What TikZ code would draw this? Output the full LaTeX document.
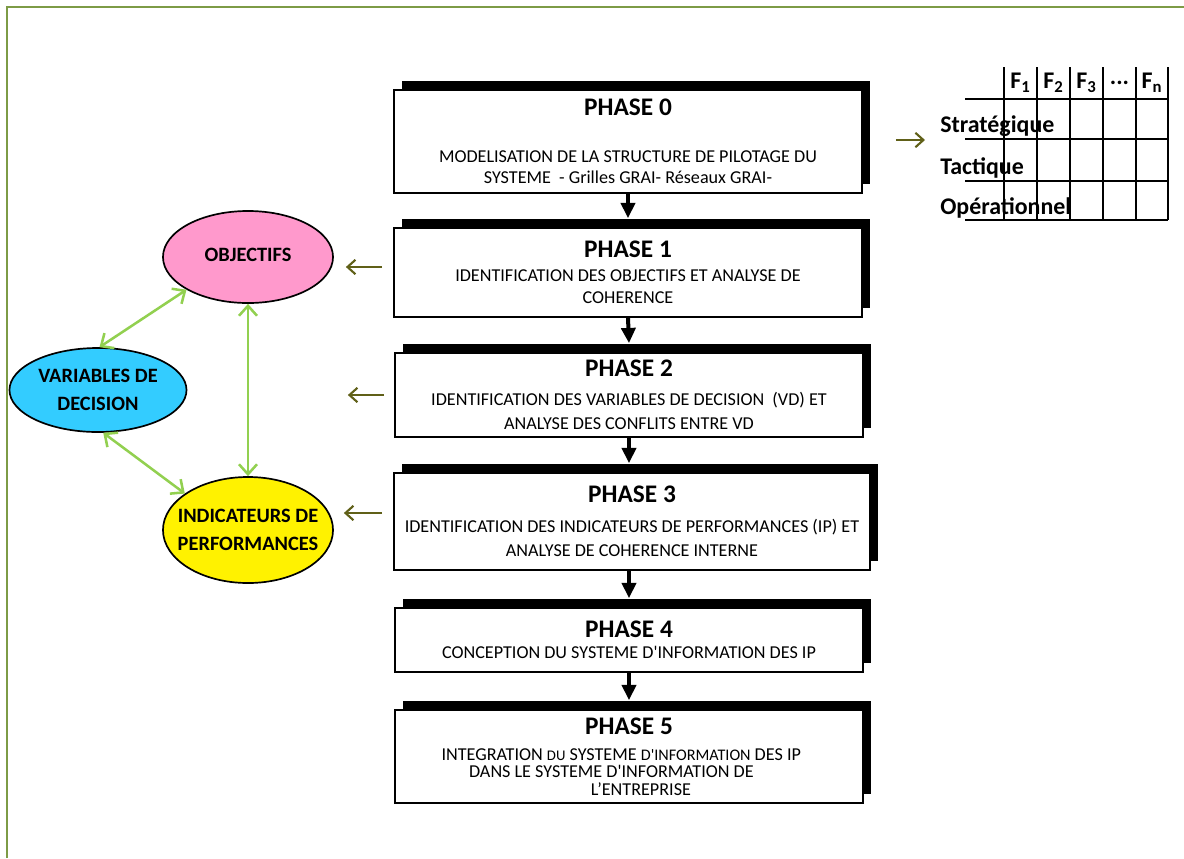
\documentclass[tikz,border=0pt]{standalone}
\usepackage{fontspec}
\setmainfont{Carlito}
\usetikzlibrary{shapes.geometric,shadows,arrows.meta,calc}
\definecolor{framegreen}{RGB}{125,155,70}
\definecolor{feedolive}{RGB}{96,96,24}
\definecolor{linkgreen}{RGB}{146,208,80}
\definecolor{objpink}{RGB}{255,153,204}
\definecolor{vdcyan}{RGB}{51,204,255}
\tikzset{
	phase/.style={rectangle, draw=black, line width=1.2pt, fill=white, minimum width=11.7cm, align=center, inner sep=2pt, font=\fontsize{12.9}{16}\selectfont, general shadow={fill=black, shadow xshift=0.2cm, shadow yshift=0.225cm}},
	goal/.style={ellipse, draw=black, line width=1.2pt, inner xsep=-0.3cm, inner ysep=0pt, align=center, font=\fontsize{14.5}{20}\selectfont\bfseries},
	flow/.style={-{Triangle[width=0.35cm,length=0.38cm]}, line width=0.1cm},
	link/.style={{Straight Barb[length=2.5mm,width=4.5mm]}-{Straight Barb[length=2.5mm,width=4.5mm]}, linkgreen, line width=1.8pt},
	feed/.style={-{Straight Barb[length=2mm,width=3.6mm]}, feedolive, line width=1.5pt},
	grid/.style={line width=0.8pt},
	cell/.style={font=\fontsize{17}{19}\selectfont\bfseries, inner sep=0pt}
}

\begin{document}
\begin{tikzpicture}[x=0.025cm, y=-0.025cm]
\useasboundingbox (0,0) rectangle (1184,858);
\draw[framegreen, line width=1.6pt] (7,858) -- (7,7) -- (1184,7);

\node[phase, minimum height=2.575cm] (p0) at (628,141.5) {{\fontsize{18}{20}\selectfont\bfseries PHASE 0}\\[17pt] MODELISATION DE LA STRUCTURE DE PILOTAGE DU\\[-1pt] SYSTEME\ \ - Grilles GRAI- Réseaux GRAI-};
\node[phase, minimum height=2.225cm] (p1) at (628,272.5) {{\fontsize{18}{20}\selectfont\bfseries PHASE 1}\\[1pt] IDENTIFICATION DES OBJECTIFS ET ANALYSE DE\\ COHERENCE};
\node[phase, minimum height=2.1cm] (p2) at (629,395) {{\fontsize{18}{20}\selectfont\bfseries PHASE 2}\\[4pt] IDENTIFICATION DES VARIABLES DE DECISION\ \ (VD) ET\\[1.5pt] ANALYSE DES CONFLITS ENTRE VD};
\node[phase, minimum width=11.9cm, minimum height=2.425cm] (p3) at (632,521.5) {{\fontsize{18}{20}\selectfont\bfseries PHASE 3}\\[5pt] IDENTIFICATION DES INDICATEURS DE PERFORMANCES (IP) ET\\[1.5pt] ANALYSE DE COHERENCE INTERNE};
\node[phase, minimum height=1.6cm] (p4) at (629,640) {{\fontsize{18}{20}\selectfont\bfseries PHASE 4}\\[-1pt] CONCEPTION DU SYSTEME D\textquotesingle INFORMATION DES IP};
\node[phase, minimum height=2.325cm] (p5) at (629,756.5) {{\fontsize{18}{20}\selectfont\bfseries PHASE 5}\\[2.5pt] INTEGRATION {\fontsize{10.5}{12}\selectfont DU} SYSTEME {\fontsize{11.5}{12}\selectfont D\textquotesingle INFORMATION} DES IP\hspace{11pt}\null\\[-3.5pt] DANS LE SYSTEME D\textquotesingle INFORMATION DE\hspace{25pt}\null\\[-3.5pt] \null\hspace{17pt}L'ENTREPRISE};

\draw[flow] (p0.south) -- ($(p1.north)+(0,-9)$);
\draw[flow] (p1.south) -- ($(p2.north)+(0,-9)$);
\draw[flow] (p2.south) -- ($(p2.south |- p3.north)+(0,-9)$);
\draw[flow] (p3.south -| p4.north) -- ($(p4.north)+(0,-9)$);
\draw[flow] (p4.south) -- ($(p5.north)+(0,-9)$);

\node[goal, fill=objpink, minimum width=4.25cm, minimum height=2.3cm] (obj) at (248,257) {\raisebox{3pt}{OBJECTIFS}};
\node[goal, fill=vdcyan, minimum width=4.425cm, minimum height=2.1cm] (vd) at (98,390) {VARIABLES DE\\DECISION};
\node[goal, fill=yellow, minimum width=4.25cm, minimum height=2.65cm] (ip) at (248,530) {INDICATEURS DE\\PERFORMANCES};

\draw[link] (obj.208) -- (vd.88);
\draw[link] (obj.south) -- (ip.north);
\draw[link] (vd.277) -- (ip.150);

\foreach \x in {1004,1037,1070,1103,1136,1168}
	\draw[grid] (\x,67) -- (\x,220);
\foreach \y in {99,139,181,220}
	\draw[grid] (965,\y) -- (1168,\y);
\foreach \x/\t/\n in {1020.5/{F\textsubscript{1}}/f1, 1053.5/{F\textsubscript{2}}/f2, 1086.5/{F\textsubscript{3}}/f3, 1119.5/{...}/fdots, 1152/{F\textsubscript{n}}/fn}
	\node[cell] (\n) at (\x,83) {\t};
\node[cell, anchor=west] (strat) at (940,126) {Stratégique};
\node[cell, anchor=west] (tact) at (940,168) {Tactique};
\node[cell, anchor=west] (oper) at (940,208) {Opérationnel};

\draw[feed, shorten <=0.825cm, shorten >=0.375cm] ($(p0.east)+(0,-1.5)$) coordinate (g0) -- (g0 -| strat.west);
\draw[feed, shorten <=0.275cm, shorten >=0.3cm] ($(p1.west)+(0,-5.5)$) coordinate (g1) -- (g1 -| obj.east);
\draw[feed, shorten <=0.25cm, shorten >=0.35cm] (p2.west) -- (p2.west -| obj.east);
\draw[feed, shorten <=0.275cm, shorten >=0.25cm] ($(p3.west)+(0,-8.5)$) coordinate (g3) -- (g3 -| ip.east);
\end{tikzpicture}
\end{document}
